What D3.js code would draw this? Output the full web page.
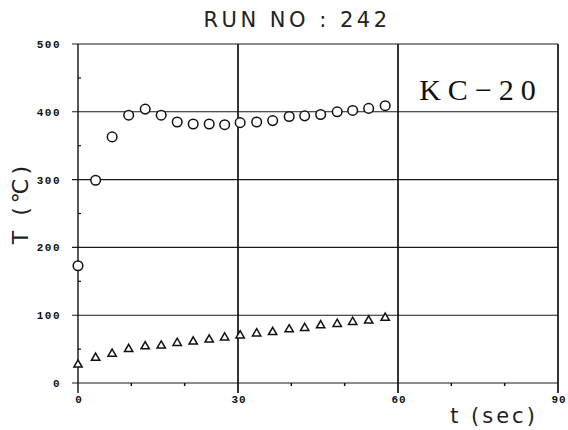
<!DOCTYPE html>
<html>
<head>
<meta charset="utf-8">
<script src="https://cdn.jsdelivr.net/npm/d3@7"></script>
<style>
  body { margin: 0; background: #fff; }
  svg { display: block; }
</style>
</head>
<body>
<svg id="chart" width="568" height="430"></svg>
<script>
// data
const timeSec = [0, 3.3, 6.4, 9.5, 12.6, 15.6, 18.6, 21.6, 24.6, 27.5, 30.4, 33.5, 36.5, 39.6, 42.5, 45.5, 48.6, 51.5, 54.5, 57.6];
const tempCircle = [173, 299, 363, 395, 404, 395, 385, 382, 382, 381, 384, 385, 387, 393, 394, 396, 400, 402, 405, 409];
const tempTriangle = [27, 37, 43, 50, 54, 55, 59, 61, 64, 67, 70, 73, 75, 79, 81, 85, 87, 90, 92, 96];
const xTicks = [0, 30, 60, 90];
const yTicks = [0, 100, 200, 300, 400, 500];
const xMinor = [10, 20, 40, 50, 70, 80];
const yMinor = [50, 150, 250, 350, 450];

const svg = d3.select("#chart");
const margin = { top: 44, right: 10, bottom: 47, left: 78 };
const plotW = 558 - margin.left;
const plotH = 383 - margin.top;

const x = d3.scaleLinear().domain([0, 90]).range([0, plotW]);
const y = d3.scaleLinear().domain([0, 500]).range([plotH, 0]);

const g = svg.append("g")
    .attr("transform", `translate(${margin.left},${margin.top})`);

// horizontal grid
g.selectAll(".hgrid")
    .data(yTicks)
    .enter()
    .append("line")
    .attr("class", "hgrid")
    .attr("x1", -6)
    .attr("x2", x(90))
    .attr("y1", d => y(d))
    .attr("y2", d => y(d))
    .attr("stroke", "#1a1a1a")
    .attr("stroke-width", 1.1);

// vertical grid
g.selectAll(".vgrid")
    .data(xTicks)
    .enter()
    .append("line")
    .attr("class", "vgrid")
    .attr("x1", d => x(d))
    .attr("x2", d => x(d))
    .attr("y1", y(500))
    .attr("y2", y(0) + 10)
    .attr("stroke", "#111")
    .attr("stroke-width", d => d === 0 ? 1.4 : 1.7);

// minor ticks
g.selectAll(".xminor")
    .data(xMinor)
    .enter()
    .append("line")
    .attr("x1", d => x(d))
    .attr("x2", d => x(d))
    .attr("y1", y(0))
    .attr("y2", y(0) + 3)
    .attr("stroke", "#111")
    .attr("stroke-width", 1.5);

g.selectAll(".yminor")
    .data(yMinor)
    .enter()
    .append("line")
    .attr("x1", 0)
    .attr("x2", 3)
    .attr("y1", d => y(d))
    .attr("y2", d => y(d))
    .attr("stroke", "#111")
    .attr("stroke-width", 1.2);

// tick labels
const tickFont = "'Liberation Mono', 'DejaVu Sans Mono', monospace";
g.selectAll(".ylab")
    .data(yTicks)
    .enter()
    .append("text")
    .attr("x", -17)
    .attr("y", d => y(d) + 4)
    .attr("text-anchor", "end")
    .attr("font-family", tickFont)
    .attr("font-weight", "bold")
    .attr("font-size", 11)
    .attr("letter-spacing", 1.5)
    .attr("fill", "#111")
    .text(d => d);

g.selectAll(".xlab")
    .data(xTicks)
    .enter()
    .append("text")
    .attr("x", d => x(d) + 1)
    .attr("y", y(0) + 20)
    .attr("text-anchor", "middle")
    .attr("font-family", tickFont)
    .attr("font-weight", "bold")
    .attr("font-size", 11)
    .attr("letter-spacing", 1)
    .attr("fill", "#111")
    .text(d => d);

const pts = timeSec.map((t, i) => ({ t: t, c: tempCircle[i], tr: tempTriangle[i] }));

// circles
g.selectAll(".circ")
    .data(pts)
    .enter()
    .append("circle")
    .attr("class", "circ")
    .attr("cx", d => x(d.t))
    .attr("cy", d => y(d.c))
    .attr("r", 4.8)
    .attr("fill", "#fff")
    .attr("stroke", "#111")
    .attr("stroke-width", 1.5);

// triangles
const tri = d3.symbol().type(d3.symbolTriangle).size(30);
g.selectAll(".tri")
    .data(pts)
    .enter()
    .append("path")
    .attr("class", "tri")
    .attr("transform", d => `translate(${x(d.t)},${y(d.tr)})`)
    .attr("d", tri)
    .attr("fill", "#fff")
    .attr("stroke", "#111")
    .attr("stroke-width", 1.5);

// title
svg.append("text")
    .attr("x", 297)
    .attr("y", 27)
    .attr("text-anchor", "middle")
    .attr("font-family", "'DejaVu Sans', sans-serif")
    .attr("font-size", 21)
    .attr("letter-spacing", 3.5)
    .attr("fill", "#222")
    .text("RUN NO : 242");

// label box text
svg.append("text")
    .attr("x", 481)
    .attr("y", 100)
    .attr("text-anchor", "middle")
    .attr("font-family", "'Liberation Serif', 'DejaVu Serif', serif")
    .attr("font-size", 30)
    .attr("letter-spacing", 7)
    .attr("fill", "#111")
    .text("KC−20");

// axis titles
svg.append("text")
    .attr("transform", "translate(28,203) rotate(-90)")
    .attr("text-anchor", "middle")
    .attr("font-family", "'DejaVu Sans', sans-serif")
    .attr("font-size", 22)
    .attr("letter-spacing", 4)
    .attr("fill", "#222")
    .text("T (℃)");

svg.append("text")
    .attr("x", 494)
    .attr("y", 423)
    .attr("text-anchor", "middle")
    .attr("font-family", "'DejaVu Sans', sans-serif")
    .attr("font-size", 21)
    .attr("letter-spacing", 3)
    .attr("fill", "#222")
    .text("t  (sec)");
</script>
</body>
</html>
